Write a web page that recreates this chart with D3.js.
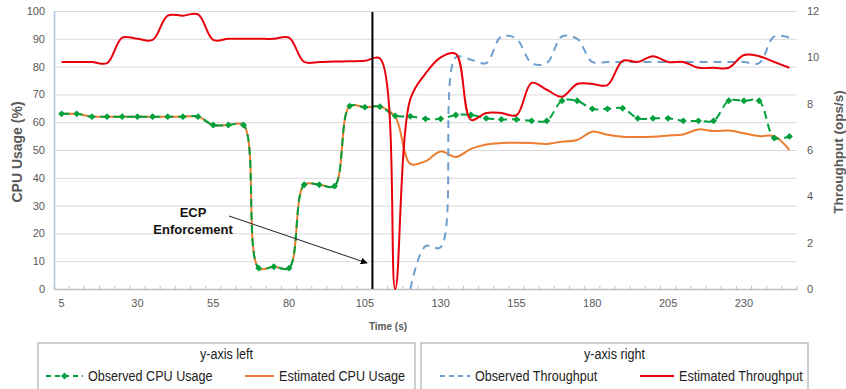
<!DOCTYPE html>
<html>
<head>
<meta charset="utf-8">
<script src="https://cdn.jsdelivr.net/npm/d3@7"></script>
<style>
  body { margin: 0; background: #fff; }
  .tick text { fill: #595959; font-family: "Liberation Sans", Arial, sans-serif; font-size: 11px; }
  .axisTitle { fill: #595959; font-family: "Liberation Sans", Arial, sans-serif; font-weight: bold; }
  .leg { font-family: "Liberation Sans Narrow", "Liberation Sans", sans-serif; fill: #222; }
</style>
</head>
<body>
<div class="chart"></div>
<script>
// categories (time in seconds)
var times = [5, 10, 15, 20, 25, 30, 35, 40, 45, 50, 55, 60, 65, 70, 75, 80, 85, 90, 95, 100,
  105, 110, 115, 120, 125, 130, 135, 140, 145, 150, 155, 160, 165, 170, 175, 180, 185, 190, 195, 200,
  205, 210, 215, 220, 225, 230, 235, 240, 245];

// left axis series (%)
var observedCpu = [63, 63, 62, 62, 62, 62, 62, 62, 62, 62, 59, 59, 59, 7.5, 8, 7.5, 37.5, 37.5, 37, 65.8,
  65.4, 65.6, 62.3, 62.1, 61.2, 61.2, 62.6, 62.6, 61.4, 61, 61, 60.5, 60.5, 67.7, 67.7, 64.8, 64.8, 65, 61.4, 61.4,
  61.4, 60.5, 60.5, 60.5, 67.7, 67.7, 67.7, 54.3, 54.9];
var estimatedCpu = [63, 63, 62, 62, 62, 62, 62, 62, 62, 62, 59, 59, 59, 7.5, 8, 7.5, 37.5, 37.5, 37, 65.8,
  65.4, 65.6, 62, 45, 46, 49.5, 47.5, 50.4, 52, 52.5, 52.6, 52.5, 52.2, 53, 53.6, 56.6, 55.5, 54.8, 54.7, 54.8,
  55.2, 55.6, 57.4, 56.8, 57, 56, 55, 55, 50];

// right axis series (ops/s)
var observedTput = [null, null, null, null, null, null, null, null, null, null, null, null, null, null, null, null, null, null, null, null,
  null, null, null, 0, 1.85, 1.8, 10, 9.9, 9.75, 10.9, 10.8, 9.75, 9.75, 10.9, 10.8, 9.8, 9.8, 9.8, 9.8, 9.8,
  9.8, 9.8, 9.8, 9.8, 9.8, 9.8, 9.75, 10.9, 10.85];
var estimatedTput = [9.8, 9.8, 9.8, 9.75, 10.85, 10.8, 10.75, 11.8, 11.8, 11.85, 10.75, 10.8, 10.8, 10.8, 10.8, 10.85, 9.8, 9.8, 9.82, 9.83,
  9.85, 9.95, 0, 8.2, 9.3, 10, 10.15, 7.3, 7.6, 7.6, 7.5, 8.9, 8.6, 8.3, 8.85, 8.85, 8.8, 9.85, 9.8, 10.05,
  9.8, 9.8, 9.55, 9.55, 9.55, 10.1, 10.05, 9.8, 9.55];

var enforcementTime = 107.5;

var svgWidth = 846, svgHeight = 389;
var plotLeft = 54, plotRight = 797, plotTop = 11, plotBottom = 289;

var svg = d3.select(".chart").append("svg")
  .attr("width", svgWidth)
  .attr("height", svgHeight)
  .style("font-family", "Liberation Sans, Arial, sans-serif");

var x = d3.scaleBand().domain(times).range([plotLeft, plotRight]);
var xc = function(t) { return x(t) + x.bandwidth() / 2; };
var xTime = d3.scaleLinear().domain([times[0], times[times.length - 1]]).range([xc(times[0]), xc(times[times.length - 1])]);
var yLeft = d3.scaleLinear().domain([0, 100]).range([plotBottom, plotTop]);
var yRight = d3.scaleLinear().domain([0, 12]).range([plotBottom, plotTop]);

// gridlines
svg.append("g")
  .attr("transform", `translate(${plotLeft},0)`)
  .call(d3.axisLeft(yLeft).ticks(10).tickSize(-(plotRight - plotLeft)).tickFormat(""))
  .call(g => g.select(".domain").remove())
  .call(g => g.selectAll("line").attr("stroke", "#d9d9d9").attr("stroke-width", 1));

// left axis
svg.append("g")
  .attr("transform", `translate(${plotLeft},0)`)
  .call(d3.axisLeft(yLeft).ticks(10).tickSize(0).tickPadding(9))
  .call(g => g.select(".domain").attr("stroke", "#a9c4df").attr("stroke-width", 1.5));

// right axis
svg.append("g")
  .attr("transform", `translate(${plotRight},0)`)
  .call(d3.axisRight(yRight).ticks(6).tickSize(0).tickPadding(10))
  .call(g => g.select(".domain").remove());

// bottom axis
var xAxis = svg.append("g")
  .attr("transform", `translate(0,${plotBottom})`)
  .call(d3.axisBottom(x).tickValues(times.filter((d, i) => i % 5 === 0)).tickSize(0).tickPadding(10));
xAxis.select(".domain").attr("stroke", "#bfbfbf").attr("stroke-width", 1.5);

// minor tick marks at category boundaries
svg.append("g").selectAll("line")
  .data(times.concat(["end"]))
  .enter().append("line")
  .attr("x1", d => d === "end" ? plotRight : x(d))
  .attr("x2", d => d === "end" ? plotRight : x(d))
  .attr("y1", plotBottom)
  .attr("y2", plotBottom - 3)
  .attr("stroke", "#bfbfbf");

// axis titles
svg.append("text")
  .attr("class", "axisTitle")
  .attr("transform", "translate(22,152) rotate(-90)")
  .attr("text-anchor", "middle")
  .style("font-size", "14px")
  .text("CPU Usage (%)");

svg.append("text")
  .attr("class", "axisTitle")
  .attr("transform", "translate(843,152) rotate(-90)")
  .attr("text-anchor", "middle")
  .style("font-size", "13.5px")
  .text("Throughput (ops/s)");

svg.append("text")
  .attr("class", "axisTitle")
  .attr("x", 388)
  .attr("y", 330)
  .attr("text-anchor", "middle")
  .style("font-size", "10px")
  .text("Time (s)");

var curve = d3.curveCatmullRom.alpha(0.5);

function lineFor(yScale) {
  return d3.line()
    .defined(d => d.v != null)
    .x(d => xc(d.t))
    .y(d => yScale(d.v))
    .curve(curve);
}
function pairs(arr) { return times.map((t, i) => ({ t: t, v: arr[i] })); }

// estimated CPU
svg.append("path")
  .datum(pairs(estimatedCpu))
  .attr("d", lineFor(yLeft))
  .attr("fill", "none")
  .attr("stroke", "#ed7d31")
  .attr("stroke-width", 2);

// observed CPU
svg.append("path")
  .datum(pairs(observedCpu))
  .attr("d", lineFor(yLeft))
  .attr("fill", "none")
  .attr("stroke", "#00a03c")
  .attr("stroke-width", 2)
  .attr("stroke-dasharray", "8,5");

var diamond = d3.symbol().type(d3.symbolDiamond2).size(30);
svg.append("g").selectAll("path")
  .data(pairs(observedCpu))
  .enter().append("path")
  .attr("d", diamond)
  .attr("transform", d => `translate(${xc(d.t)},${yLeft(d.v)})`)
  .attr("fill", "#00a03c");

// observed throughput
svg.append("path")
  .datum(pairs(observedTput))
  .attr("d", lineFor(yRight))
  .attr("fill", "none")
  .attr("stroke", "#6f9fd0")
  .attr("stroke-width", 2)
  .attr("stroke-dasharray", "8,6");

// estimated throughput
svg.append("path")
  .datum(pairs(estimatedTput))
  .attr("d", lineFor(yRight))
  .attr("fill", "none")
  .attr("stroke", "#e8000b")
  .attr("stroke-width", 2);

// ECP enforcement marker
svg.append("line")
  .attr("x1", xTime(enforcementTime)).attr("x2", xTime(enforcementTime))
  .attr("y1", 12).attr("y2", plotBottom)
  .attr("stroke", "#000")
  .attr("stroke-width", 2);

svg.append("defs").append("marker")
  .attr("id", "arrow")
  .attr("viewBox", "0 0 10 10")
  .attr("refX", 9).attr("refY", 5)
  .attr("markerWidth", 7).attr("markerHeight", 7)
  .attr("orient", "auto")
  .append("path").attr("d", "M0,0L10,5L0,10z").attr("fill", "#000");

svg.append("line")
  .attr("x1", 229).attr("y1", 216)
  .attr("x2", 367).attr("y2", 263)
  .attr("stroke", "#222")
  .attr("stroke-width", 1)
  .attr("marker-end", "url(#arrow)");

var note = svg.append("text")
  .attr("text-anchor", "middle")
  .style("font-size", "13px")
  .style("font-weight", "bold")
  .attr("fill", "#111");
note.append("tspan").attr("x", 193).attr("y", 217).text("ECP");
note.append("tspan").attr("x", 193).attr("y", 234).text("Enforcement");

// legend
var legendBoxes = [
  { title: "y-axis left", x: 38, w: 377 },
  { title: "y-axis right", x: 421, w: 387 }
];
var legendItems = [
  { name: "Observed CPU Usage", color: "#00a03c", dash: "5,4", marker: true, sx: 46, tx: 88 },
  { name: "Estimated CPU Usage", color: "#ed7d31", dash: null, marker: false, sx: 245, tx: 279 },
  { name: "Observed Throughput", color: "#6f9fd0", dash: "5,4", marker: false, sx: 440, tx: 475 },
  { name: "Estimated Throughput", color: "#e8000b", dash: null, marker: false, sx: 640, tx: 679 }
];

var lg = svg.append("g");
lg.selectAll("rect").data(legendBoxes).enter().append("rect")
  .attr("x", d => d.x).attr("y", 343)
  .attr("width", d => d.w).attr("height", 60)
  .attr("fill", "none").attr("stroke", "#bfbfbf").attr("stroke-width", 1.5);
lg.selectAll("text.title").data(legendBoxes).enter().append("text")
  .attr("class", "leg title")
  .attr("transform", d => `translate(${d.x + d.w / 2},359) scale(0.84,1)`)
  .attr("text-anchor", "middle")
  .style("font-size", "15px")
  .text(d => d.title);

legendItems.forEach(function(it) {
  lg.append("line")
    .attr("x1", it.sx).attr("x2", it.tx - 5)
    .attr("y1", 376).attr("y2", 376)
    .attr("stroke", it.color).attr("stroke-width", 2)
    .attr("stroke-dasharray", it.dash);
  if (it.marker) {
    lg.append("path").attr("d", diamond)
      .attr("transform", `translate(${(it.sx + it.tx - 5) / 2},376)`)
      .attr("fill", it.color);
  }
  lg.append("text")
    .attr("class", "leg")
    .attr("transform", `translate(${it.tx},381) scale(0.84,1)`)
    .style("font-size", "15px")
    .text(it.name);
});
</script>
</body>
</html>
